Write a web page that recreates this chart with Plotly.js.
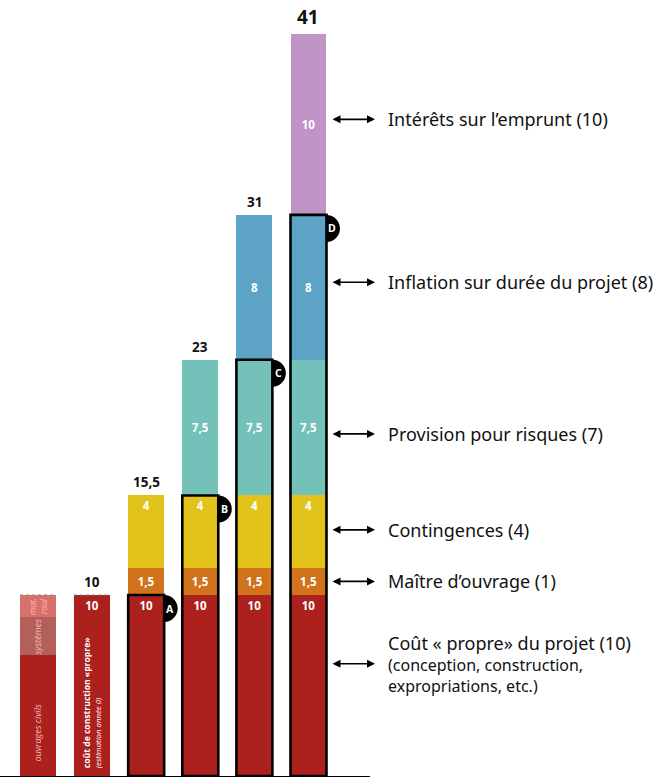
<!DOCTYPE html>
<html>
<head>
<meta charset="utf-8">
<script src="https://cdn.plot.ly/plotly-3.0.1.min.js"></script>
<style>html,body{margin:0;padding:0;background:#fff;}#chart{width:660px;height:777px;}</style>
</head>
<body>
<div id="chart"></div>
<script>
// ---------- data ----------
const colIndex = [0, 1, 2, 3, 4, 5];
// column 1 : breakdown of the "clean" construction cost
const col1X = [0];
const ouvragesCivils = [6.7];
const systemes = [2.1];
const materielRoulant = [1.2];
// columns 2-6 : cumulative cost build-up
const coutPropreX = [1, 2, 3, 4, 5];
const coutPropre = [10, 10, 10, 10, 10];
const maitreX = [2, 3, 4, 5];
const maitreOuvrage = [1.5, 1.5, 1.5, 1.5];
const contingX = [2, 3, 4, 5];
const contingences = [4, 4, 4, 4];
const provisionX = [3, 4, 5];
const provision = [7.5, 7.5, 7.5];
const inflationX = [4, 5];
const inflation = [8, 8];
const interetsX = [5];
const interets = [10];
const fmtLabel = v => String(v).replace('.', ',');
const totalsX = [1, 2, 3, 4, 5];
const totals = [10, 15.5, 23, 31, 41];
const outlineLetters = ['A', 'B', 'C', 'D'];
const rightLabels = ["Intérêts sur l’emprunt (10)", "Inflation sur durée du projet (8)", "Provision pour risques (7)", "Contingences (4)", "Maître d’ouvrage (1)"];
const rightLabelY = [36.28, 27.28, 18.9, 13.6, 10.75];
const coutTitle = "Coût « propre» du projet (10)";
const coutSub = ["(conception, construction,", "expropriations, etc.)"];
const coutY = 6.2;
const arrowY = [36.28, 27.28, 18.9, 13.6, 10.75, 6.2];

// ---------- styles ----------
const C = {
  red: '#AC201D', redMid: '#B3605A', redLight: '#D9706A',
  orange: '#D0731B', yellow: '#E1C31B', teal: '#74C1BA',
  blue: '#5DA3C6', purple: '#C194C6'
};
const W = 0.665;
const inFont = {family: 'Open Sans, sans-serif', size: 11.5, color: '#ffffff', weight: 700};
const labFont = 'Noto Sans, sans-serif';

function seg(x, y, color, textOn, anchor) {
  return {
    type: 'bar', x: x, y: y, width: W,
    marker: {color: color, line: {width: 0}},
    text: textOn ? y.map(fmtLabel) : undefined,
    textposition: textOn ? 'inside' : 'none',
    insidetextanchor: anchor || 'middle',
    textangle: 0,
    insidetextfont: inFont,
    hoverinfo: 'none', showlegend: false
  };
}

const traces = [
  seg(col1X, ouvragesCivils, C.red, false),
  seg(col1X, systemes, C.redMid, false),
  seg(col1X, materielRoulant, C.redLight, false),
  seg(coutPropreX, coutPropre, C.red, true, 'end'),
  seg(maitreX, maitreOuvrage, C.orange, true),
  seg(contingX, contingences, C.yellow, true, 'end'),
  seg(provisionX, provision, C.teal, true),
  seg(inflationX, inflation, C.blue, true),
  seg(interetsX, interets, C.purple, true)
];

// ---------- shapes ----------
const shapes = [];
const annotations = [];
const k = 0.5523;
const rx = 13.5 / 54.1, ry = 13.5 / 18.1;
for (let i = 0; i < outlineLetters.length; i++) {
  const xc = totalsX[i + 1];
  const top = totals[i];
  shapes.push({type: 'rect', xref: 'x', yref: 'y', x0: xc - W / 2, x1: xc + W / 2, y0: 0, y1: top,
    line: {color: '#000', width: 2.6}, fillcolor: 'rgba(0,0,0,0)'});
  const xe = xc + W / 2, yc = top - ry;
  const path = `M ${xe},${top} C ${xe + k * rx},${top} ${xe + rx},${yc + k * ry} ${xe + rx},${yc} ` +
    `C ${xe + rx},${yc - k * ry} ${xe + k * rx},${yc - ry} ${xe},${yc - ry} Z`;
  shapes.push({type: 'path', xref: 'x', yref: 'y', path: path, fillcolor: '#000', line: {width: 0}});
  annotations.push({xref: 'x', yref: 'y', x: xe, y: yc, xshift: 6, text: '<b>' + outlineLetters[i] + '</b>',
    showarrow: false, font: {family: 'Open Sans, sans-serif', size: 10.5, color: '#fff'}, xanchor: 'center', yanchor: 'middle'});
}
// dashed top lines on the first two columns
[0, 1].forEach(xc => shapes.push({type: 'line', xref: 'x', yref: 'y', x0: xc - W / 2, x1: xc + W / 2, y0: 10, y1: 10,
  line: {color: '#888', width: 1.2, dash: 'dot'}}));

// totals above bars
totals.forEach((t, i) => annotations.push({xref: 'x', yref: 'y', x: totalsX[i], y: t, yanchor: 'bottom', yshift: 2,
  text: '<b>' + fmtLabel(t) + '</b>', showarrow: false,
  font: {family: 'Open Sans, sans-serif', size: t === 41 ? 19 : 13.5, color: '#111'}}));

// rotated texts in columns 1 and 2
const pinkTxt = '#F3B9B3';
annotations.push({xref: 'x', yref: 'y', x: 0, y: 2.4, textangle: -90, text: '<i>ouvrages civils</i>', showarrow: false,
  font: {family: 'Open Sans, sans-serif', size: 9, color: pinkTxt}});
annotations.push({xref: 'x', yref: 'y', x: 0, y: 7.7, textangle: -90, text: '<i>systèmes</i>', showarrow: false,
  font: {family: 'Open Sans, sans-serif', size: 9, color: pinkTxt}});
annotations.push({xref: 'x', yref: 'y', x: 0, y: 9.38, textangle: -90, text: '<i>mat.<br>roul</i>', showarrow: false,
  font: {family: 'Open Sans, sans-serif', size: 8.5, color: pinkTxt}});
annotations.push({xref: 'x', yref: 'y', x: 1, y: 0.3, yanchor: 'bottom', textangle: -90, align: 'left',
  text: '<b>coût de construction «propre»</b><br><i><span style="font-size:7.8px">(estimation année 0)</span></i>',
  showarrow: false, font: {family: 'Open Sans, sans-serif', size: 8.6, color: '#fff'}});

// arrows + labels on the right
const pxW = 370;
arrowY.forEach(y => annotations.push({xref: 'paper', yref: 'y', x: 375 / pxW, y: y, ax: -44, ay: 0,
  text: '', showarrow: true, arrowside: 'end+start', arrowhead: 2, arrowsize: 1, arrowwidth: 1.6,
  arrowcolor: '#000', standoff: 0, startstandoff: 0}));
rightLabels.forEach((t, i) => annotations.push({xref: 'paper', yref: 'y', x: 386 / pxW, y: rightLabelY[i],
  xanchor: 'left', yanchor: 'middle', text: t, showarrow: false,
  font: {family: labFont, size: 18, color: '#111'}}));
annotations.push({xref: 'paper', yref: 'y', x: 386 / pxW, y: coutY,
  xanchor: 'left', yanchor: 'middle', align: 'left',
  text: '<span style="font-size:18px">' + coutTitle + '</span><br>' + coutSub.join('<br>'), showarrow: false,
  font: {family: labFont, size: 16, color: '#111'}});

const layout = {
  width: 660, height: 777, autosize: false,
  margin: {l: 0, r: 660 - pxW, t: 0, b: 1, pad: 0},
  barmode: 'stack', bargap: 0.335,
  paper_bgcolor: '#fff', plot_bgcolor: '#fff',
  xaxis: {range: [-0.702, 6.137], showgrid: false, zeroline: false, showticklabels: false, ticks: '',
    showline: true, linecolor: '#000', linewidth: 2, fixedrange: true},
  yaxis: {range: [0, 776 / 18.1], showgrid: false, zeroline: false, showticklabels: false, ticks: '', showline: false},
  shapes: shapes, annotations: annotations, showlegend: false
};
Plotly.newPlot('chart', traces, layout, {displayModeBar: false, staticPlot: true});
</script>
</body>
</html>
